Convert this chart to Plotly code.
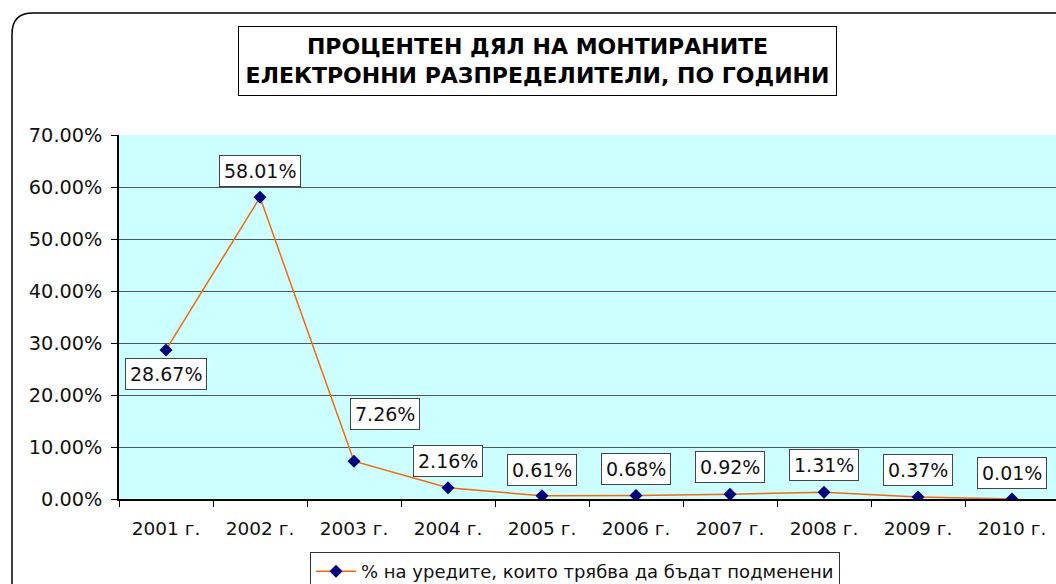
import plotly.graph_objects as go

years = ["2001 г.", "2002 г.", "2003 г.", "2004 г.", "2005 г.", "2006 г.", "2007 г.", "2008 г.", "2009 г.", "2010 г."]
values = [28.67, 58.01, 7.26, 2.16, 0.61, 0.68, 0.92, 1.31, 0.37, 0.01]
label_texts = ["28.67%", "58.01%", "7.26%", "2.16%", "0.61%", "0.68%", "0.92%", "1.31%", "0.37%", "0.01%"]
series_name = "% на уредите, които трябва да бъдат подменени"
title_lines = ["ПРОЦЕНТЕН ДЯЛ НА МОНТИРАНИТЕ", "ЕЛЕКТРОННИ РАЗПРЕДЕЛИТЕЛИ, ПО ГОДИНИ"]

W, H = 1056, 584
L, T, B = 119, 135, 499  # plot area pixel edges
R = W

FONT = "DejaVu Sans"

def px(x):
    return (x - L) / (R - L)

def py(y):
    return (B - y) / (B - T)

fig = go.Figure()
fig.add_trace(go.Scatter(
    x=years, y=[v / 100 for v in values], mode="lines+markers", name=series_name,
    line=dict(color="#FF6600", width=1.5),
    marker=dict(symbol="diamond", size=10, color="#000080"),
))

# data labels
shifts = [(0, -24), (0, 26), (31, 47), (0, 27), (0, 26), (0, 26), (0, 27), (0, 27), (0, 27), (0, 26)]
for i, (yr, v, t) in enumerate(zip(years, values, label_texts)):
    xs, ys = shifts[i]
    fig.add_annotation(x=yr, y=v / 100, text=t, showarrow=False, xshift=xs, yshift=ys,
                       font=dict(family=FONT, size=19, color="#111"),
                       bgcolor="white", bordercolor="#444", borderwidth=1, borderpad=4)

# title box
fig.add_annotation(xref="paper", yref="paper", x=px(537.5), y=py(61), xanchor="center", yanchor="middle",
                   text="<b>" + "<br>".join(title_lines) + "</b>", showarrow=False,
                   font=dict(family=FONT, size=22, color="black"),
                   bgcolor="white", bordercolor="black", borderwidth=1, borderpad=4,
                   width=589, height=60, align="center")

# outer rounded frame
path = (f"M {px(12)},{py(620)} L {px(12)},{py(34)} Q {px(12)},{py(13)} {px(33)},{py(13)} "
        f"L {px(1080)},{py(13)}")
fig.add_shape(type="path", path=path, xref="paper", yref="paper",
              line=dict(color="black", width=1.5))

fig.update_layout(
    width=W, height=H,
    margin=dict(l=L, r=W - R, t=T, b=H - B, autoexpand=False),
    paper_bgcolor="white", plot_bgcolor="#CCFFFF",
    font=dict(family=FONT, size=19, color="#111"),
    showlegend=True,
    legend=dict(orientation="h", x=px(310), y=py(552), xanchor="left", yanchor="top",
                bordercolor="#333", borderwidth=1, bgcolor="white",
                font=dict(family=FONT, size=18, color="#111"), itemwidth=40),
)
fig.update_xaxes(type="category", range=[-0.5, 9.5 - 0.032], showline=True, linecolor="black", linewidth=1.5,
                 ticks="outside", tickson="boundaries", ticklen=6, tickcolor="black",
                 showgrid=False, ticklabelstandoff=12, tickfont=dict(size=18.5))
fig.update_yaxes(range=[0, 0.7], dtick=0.1, tickformat=".2%", showline=True, linecolor="black", linewidth=1.5,
                 ticks="outside", ticklen=6, tickcolor="black", showgrid=True, gridcolor="#555", gridwidth=1,
                 zeroline=False, ticklabelstandoff=5, tickfont=dict(size=19.3))

fig.write_html("out.html", config={"displayModeBar": False},
               post_script="document.body.style.margin='0';")
